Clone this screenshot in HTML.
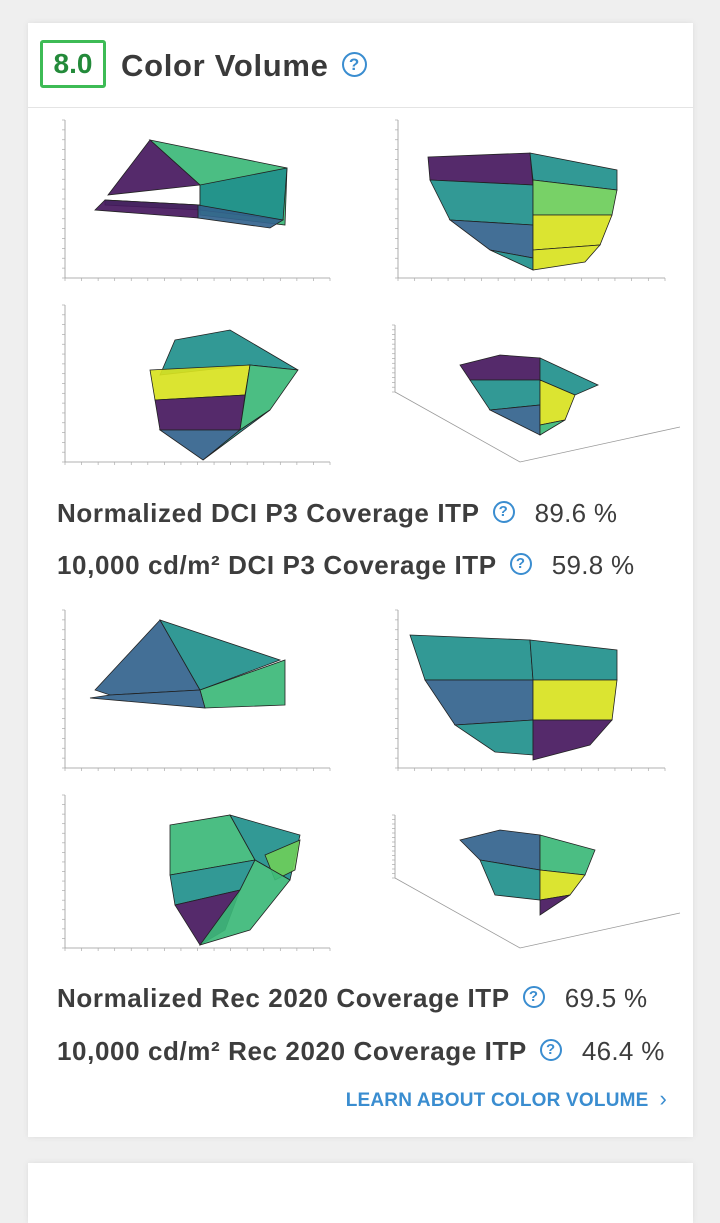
<!DOCTYPE html>
<html><head><meta charset="utf-8">
<style>
body{margin:0;width:720px;height:1200px;background:#efefef;font-family:"Liberation Sans",sans-serif;overflow:hidden;position:relative}
.card{position:absolute;left:28px;top:23px;width:665px;height:1114px;background:#fff;box-shadow:0 0 6px rgba(0,0,0,.08)}
.card2{position:absolute;left:28px;top:1163px;width:665px;height:60px;background:#fff;box-shadow:0 0 6px rgba(0,0,0,.08)}
.hdr{position:absolute;left:0;top:0;width:665px;height:84px;border-bottom:1px solid #e4e4e4}
.badge{position:absolute;left:12px;top:17px;width:66px;height:48px;border:3px solid #3dbb55;border-radius:3px;box-sizing:border-box;color:#238a3a;font-size:28px;font-weight:bold;text-align:center;line-height:42px}
.title{position:absolute;left:93px;top:25px;font-size:31px;font-weight:bold;color:#3a3a3a;letter-spacing:0.7px}
.q{display:inline-block;width:22px;height:22px;border:2px solid #3a8dd0;border-radius:50%;color:#3a8dd0;font-size:15px;font-weight:bold;text-align:center;line-height:18px;box-sizing:border-box;vertical-align:middle}
.row{position:absolute;left:29px;font-size:26px;font-weight:bold;color:#3d3d3d;letter-spacing:0.6px;white-space:nowrap}
.row .v{font-weight:normal;margin-left:20px;letter-spacing:0.3px}
.row .q{margin-left:13px;position:relative;top:-3px}
.link{position:absolute;right:26px;top:1063px;font-size:19px;font-weight:bold;color:#3a8dd0;letter-spacing:0.2px}
svg{position:absolute;left:0;top:0}
</style></head><body>
<div class="card">
 <div class="hdr">
  <div class="badge">8.0</div>
  <div class="title">Color Volume <span class="q" style="position:relative;top:-3px;width:25px;height:25px;line-height:21px;font-size:17px;margin-left:4px">?</span></div>
 </div>
 <div class="row" style="top:475px">Normalized DCI P3 Coverage ITP<span class="q">?</span><span class="v">89.6 %</span></div>
 <div class="row" style="top:527px">10,000 cd/m² DCI P3 Coverage ITP<span class="q">?</span><span class="v">59.8 %</span></div>
 <div class="row" style="top:960px">Normalized Rec 2020 Coverage ITP<span class="q">?</span><span class="v">69.5 %</span></div>
 <div class="row" style="top:1013px">10,000 cd/m² Rec 2020 Coverage ITP<span class="q">?</span><span class="v">46.4 %</span></div>
 <div class="link">LEARN ABOUT COLOR VOLUME &nbsp;<span style="font-weight:normal;font-size:22px">&#x203A;</span></div>
</div>
<div class="card2"></div>
<svg id="plots" width="720" height="1200"></svg>
<script>
// plot frames: [x0,y0,x1,y1] axes box, 3d flag
const plotFrames=[[65,120,330,278,0],[398,120,665,278,0],[65,305,330,462,0],[395,325,520,462,1],[65,610,330,768,0],[398,610,665,768,0],[65,795,330,948,0],[395,815,520,948,1]];
const C={p:"#46185e",t:"#21908c",g:"#3cb878",b:"#33638d",y:"#d8e21f",lg:"#6ccd5a",w:"none"};
// polygons per plot: [colorKey, points]
const polys=[
[["g",[[150,140],[287,168],[285,225],[200,215],[200,185]]],["p",[[108,195],[150,140],[200,185]]],["t",[[200,185],[287,168],[283,220],[200,210]]],["g",[[105,200],[200,205],[200,210],[105,205]]],["p",[[95,210],[105,200],[200,205],[198,218]]],["b",[[198,205],[283,220],[270,228],[198,218]]]],
[["p",[[428,157],[530,153],[533,185],[430,180]]],["t",[[430,180],[533,185],[533,225],[450,220]]],["b",[[450,220],[533,225],[533,258],[490,250]]],["t",[[490,250],[533,258],[533,270]]],["t",[[530,153],[617,170],[617,190],[533,180]]],["lg",[[533,180],[617,190],[612,215],[533,215]]],["y",[[533,215],[612,215],[600,245],[533,250]]],["y",[[533,250],[600,245],[585,262],[533,270]]]],
[["t",[[175,340],[230,330],[298,370],[250,365],[160,375]]],["y",[[150,370],[250,365],[245,395],[155,400]]],["p",[[155,400],[245,395],[240,430],[160,430]]],["b",[[160,430],[240,430],[203,460]]],["g",[[250,365],[298,370],[270,410],[240,430]]],["t",[[240,430],[270,410],[203,460]]]],
[["p",[[460,365],[500,355],[540,358],[540,380],[470,380]]],["t",[[470,380],[540,380],[540,405],[490,410]]],["b",[[490,410],[540,405],[540,435]]],["t",[[540,358],[598,385],[575,395],[540,380]]],["y",[[540,380],[575,395],[565,420],[540,425]]],["g",[[540,425],[565,420],[540,435]]]],
[["b",[[95,690],[160,620],[200,690],[110,695]]],["t",[[160,620],[280,660],[200,690]]],["g",[[200,690],[285,660],[285,705],[205,708]]],["b",[[110,695],[200,690],[205,708],[90,698]]]],
[["t",[[410,635],[530,640],[533,680],[425,680]]],["b",[[425,680],[533,680],[533,720],[455,725]]],["t",[[455,725],[533,720],[533,755],[495,752]]],["t",[[530,640],[617,650],[617,680],[533,680]]],["y",[[533,680],[617,680],[612,720],[533,720]]],["p",[[533,720],[612,720],[590,745],[533,760]]]],
[["g",[[170,825],[230,815],[255,860],[170,875]]],["t",[[170,875],[255,860],[240,890],[175,905]]],["p",[[175,905],[240,890],[225,930],[200,945]]],["t",[[230,815],[300,835],[290,880],[255,860]]],["lg",[[265,855],[300,840],[295,870],[275,880]]],["g",[[255,860],[290,880],[250,930],[200,945],[240,890]]]],
[["b",[[460,840],[500,830],[540,835],[540,870],[480,860]]],["t",[[480,860],[540,870],[540,900],[495,895]]],["g",[[540,835],[595,850],[585,875],[540,870]]],["y",[[540,870],[585,875],[570,895],[540,900]]],["p",[[540,900],[570,895],[540,915]]]]
];
const svg=document.getElementById('plots');
const NS="http://www.w3.org/2000/svg";
plotFrames.forEach((f,i)=>{
 const g=document.createElementNS(NS,'g');
 
 
 const [x0,y0,x1,y1,d3]=f;
 let s='';
 if(!d3){
  s+=`<path d="M${x0},${y0} V${y1} H${x1}" stroke="#999" fill="none" stroke-width="0.8"/>`;
  for(let k=0;k<=16;k++){const y=y0+k*(y1-y0)/16;s+=`<line x1="${x0-3}" x2="${x0}" y1="${y}" y2="${y}" stroke="#aaa" stroke-width="0.7"/>`;}
  for(let k=0;k<=16;k++){const x=x0+k*(x1-x0)/16;s+=`<line x1="${x}" x2="${x}" y1="${y1}" y2="${y1+3}" stroke="#aaa" stroke-width="0.7"/>`;}
 } else {
  s+=`<path d="M${x0},${y0} V${y1-70} L${x0+125},${y1} L${x1+160},${y1-35}" stroke="#999" fill="none" stroke-width="0.8"/>`;
  for(let k=0;k<=14;k++){const y=y0+k*(y1-70-y0)/14;s+=`<line x1="${x0-3}" x2="${x0}" y1="${y}" y2="${y}" stroke="#aaa" stroke-width="0.7"/>`;}
 }
 polys[i].forEach(p=>{
  s+=`<polygon points="${p[1].map(q=>q.join(',')).join(' ')}" fill="${C[p[0]]}" fill-opacity="0.92" stroke="#222" stroke-width="0.8"/>`;
 });
 g.innerHTML=s;
 svg.appendChild(g);
});
</script>
</body></html>
